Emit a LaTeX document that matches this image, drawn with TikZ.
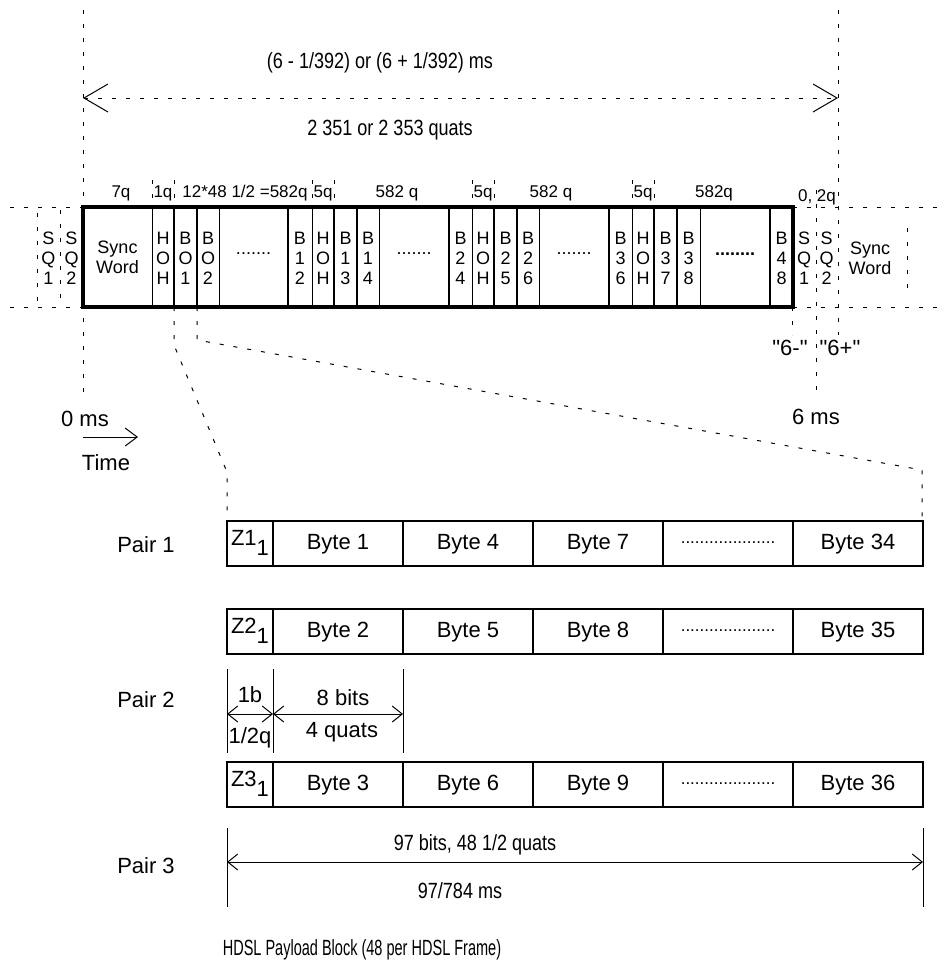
\documentclass[tikz,border=0pt]{standalone}
\usepackage{fontspec}
\setmainfont{Liberation Sans}[Ligatures=TeXOff]
\newfontfamily\narrowfont[FakeStretch=0.82]{Liberation Sans}
\newfontfamily\capfont[FakeStretch=0.66]{Liberation Sans}
\usetikzlibrary{arrows.meta}
\begin{document}
\begin{tikzpicture}[x=0.5pt,y=-0.5pt,
  guide/.style={dash pattern=on 2pt off 5pt,line width=0.5pt},
  thinsep/.style={line width=0.5pt},
  thicksep/.style={line width=1.2pt},
  frm/.style={line width=1.6pt},
  frcell/.style={align=center,font=\fontsize{9}{10}\selectfont,inner sep=0pt},
  lbl/.style={font=\fontsize{8.5}{10}\selectfont,inner sep=0pt},
  txt/.style={font=\fontsize{11}{13}\selectfont,inner sep=0pt},
  ntxt/.style={font=\narrowfont\fontsize{11}{13}\selectfont,inner sep=0pt},
  byte/.style={line width=0.6pt},
  dim/.style={line width=0.5pt,{Straight Barb[length=5pt,width=8pt]}-{Straight Barb[length=5pt,width=8pt]}}]
\useasboundingbox (0,0) rectangle (947,964);
\coordinate (t0) at (83,98);
\coordinate (t6) at (838,98);
\draw[guide] (83,10) -- (83,397);
\draw[guide] (838,10) -- (838,335);
\draw[guide] (816,190) -- (816,397);
\draw[guide] (792,307) -- (792,335);
\draw[guide,{Straight Barb[length=12pt,width=14pt]}-{Straight Barb[length=12pt,width=14pt]}] (t0) -- (t6);
\node[ntxt] (tms) at (380,63) {(6 - 1/392) or (6 + 1/392) ms};
\node[ntxt] (tq) at (390,130) {2 351 or 2 353 quats};
\foreach \x in {152,174,312,334,472,494,632,654}
  \draw[guide] (\x,180) -- (\x,207);
\draw[guide] (10,207) -- (83,207);
\draw[guide] (10,307) -- (83,307);
\draw[guide] (37,213) -- (37,302);
\draw[guide] (60,210) -- (60,305);
\draw[guide] (793,207) -- (947,207);
\draw[guide] (793,307) -- (947,307);
\draw[guide] (907,228) -- (907,290);
\foreach \x in {152,219,312,379,472,539,632,700}
  \draw[thinsep] (\x,207) -- (\x,307);
\foreach \x in {174,197,288,334,357,449,494,517,609,654,677,770}
  \draw[thicksep] (\x,207) -- (\x,307);
\draw[frm] (83,207) rectangle (793,307);
\node[frcell] (sync) at (117.5,257) {Sync\\Word};
\foreach \x/\t/\n in {163/H\\O\\H/hoha, 185.5/B\\O\\1/bo1, 208/B\\O\\2/bo2,
    300/B\\1\\2/b12, 323/H\\O\\H/hohb, 345.5/B\\1\\3/b13, 368/B\\1\\4/b14,
    460.5/B\\2\\4/b24, 483/H\\O\\H/hohc, 505.5/B\\2\\5/b25, 528/B\\2\\6/b26,
    620.5/B\\3\\6/b36, 643/H\\O\\H/hohd, 665.5/B\\3\\7/b37, 688.5/B\\3\\8/b38,
    781.5/B\\4\\8/b48}
  \node[frcell] (\n) at (\x,258) {\t};
\foreach \x/\n in {253.5/gapa, 414/gapb, 574/gapc}
  \node[frcell] (\n) at (\x,254) {.......};
\node[frcell] (gapd) at (735,254) {\textbf{........}};
\node[frcell] (sq1l) at (48.5,258) {S\\Q\\1};
\node[frcell] (sq2l) at (71.5,258) {S\\Q\\2};
\node[frcell] (sq1r) at (804,258) {S\\Q\\1};
\node[frcell] (sq2r) at (826.5,258) {S\\Q\\2};
\node[frcell] (syncr) at (870,258) {Sync\\Word};
\node[lbl] (l7q) at (121,193) {7q};
\node[lbl] (l1q) at (163,193) {1q};
\node[lbl] (l582a) at (245,193) {12*48 1/2 =582q};
\node[lbl] (l5qa) at (323,193) {5q};
\node[lbl] (l582b) at (397,193) {582 q};
\node[lbl] (l5qb) at (483,193) {5q};
\node[lbl] (l582c) at (551,193) {582 q};
\node[lbl] (l5qc) at (643,193) {5q};
\node[lbl] (l582d) at (714,193) {582q};
\node[lbl] (l02q) at (817,197) {0, 2q};
\node[txt] (m6) at (790,348) {"6-"};
\node[txt] (p6) at (840,348) {"6+"};
\node[txt] (ms6) at (816,417) {6 ms};
\node[txt] (ms0) at (85,419) {0 ms};
\node[txt] (time) at (106,463) {Time};
\coordinate (ta) at (83,437);
\coordinate (tb) at (138,437);
\draw[line width=0.5pt,-{Straight Barb[length=6pt,width=9pt]}] (ta) -- (tb);
\draw[guide] (174,307) -- (174,345) -- (227,472) -- (227,521);
\draw[guide] (197,307) -- (197,340) -- (922,470) -- (922,521);
\foreach \y/\r/\a/\b/\c/\d in {521/1/1/4/7/34, 609/2/2/5/8/35, 762/3/3/6/9/36} {
  \draw[byte] (227,\y) rectangle (923,{\y+45});
  \foreach \x in {273,403,533,663,793}
    \draw[byte] (\x,\y) -- (\x,{\y+45});
  \node[txt] (z\r) at (250,{\y+22}) {Z\r\raisebox{-5pt}{1}};
  \node[txt] (by\a) at (338,{\y+23}) {Byte \a};
  \node[txt] (by\b) at (468,{\y+23}) {Byte \b};
  \node[txt] (by\c) at (598,{\y+23}) {Byte \c};
  \node[lbl] (dots\r) at (728,{\y+22}) {....................};
  \node[txt] (by\d) at (858,{\y+23}) {Byte \d};
}
\node[txt] (pair1) at (146,545) {Pair 1};
\node[txt] (pair2) at (146,700) {Pair 2};
\node[txt] (pair3) at (146,866) {Pair 3};
\foreach \x in {227,273,403}
  \draw[thinsep] (\x,669) -- (\x,753);
\coordinate (da) at (227,714);
\coordinate (db) at (273,714);
\coordinate (dc) at (403,714);
\draw[dim] (da) -- (db);
\draw[dim] (db) -- (dc);
\node[txt] (onebit) at (250,695) {1b};
\node[txt] (halfq) at (250,738) {1/2q};
\node[txt] (eightb) at (343,698) {8 bits};
\node[txt] (fourq) at (342,732) {4 quats};
\draw[thinsep] (227,828) -- (227,907);
\draw[thinsep] (923,828) -- (923,907);
\coordinate (ea) at (227,862);
\coordinate (eb) at (923,862);
\draw[dim] (ea) -- (eb);
\node[ntxt] (blkbits) at (475,845) {97 bits, 48 1/2 quats};
\node[ntxt] (blkms) at (460,891) {97/784 ms};
\node[font=\capfont\fontsize{11}{13}\selectfont,inner sep=0pt] (caption) at (362,950) {HDSL Payload Block (48 per HDSL Frame)};
\end{tikzpicture}
\end{document}
